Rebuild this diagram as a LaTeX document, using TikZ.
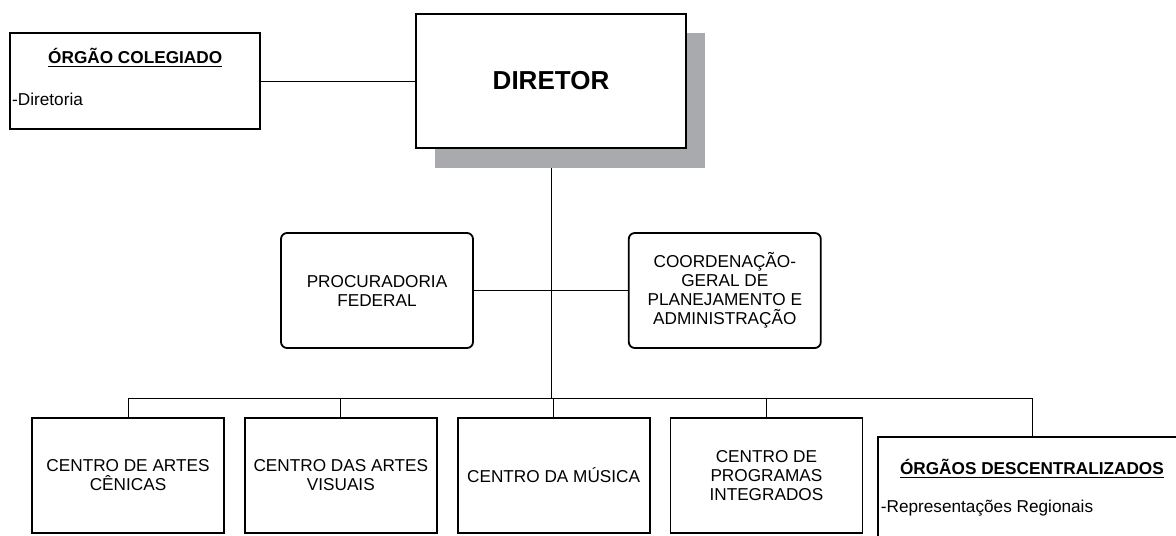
\documentclass[tikz,border=0pt]{standalone}
\usepackage{fontspec}
\setmainfont{Liberation Sans}
\usetikzlibrary{positioning, shadows, backgrounds}
\definecolor{sombra}{RGB}{168,170,173}

\begin{document}
\begin{tikzpicture}[x=0.5pt, y=-0.5pt, line width=0.9pt,
    every node/.style={font={\fontsize{8.6}{9.5}\selectfont}},
    caixa/.style={draw, fill=white, minimum width=96pt, minimum height=57.5pt, align=center, inner sep=1pt},
    redonda/.style={caixa, rounded corners=3pt},
    titulo/.style={font={\fontsize{8.6}{9.5}\selectfont\bfseries}, inner sep=0pt, anchor=base},
    item/.style={inner sep=0pt, anchor=base west}]
    \useasboundingbox (0,0) rectangle (1176,535);

    \node[caixa, minimum width=135pt, minimum height=67pt, font={\fontsize{13}{15}\selectfont\bfseries}, drop shadow={shadow xshift=9.5pt, shadow yshift=-9.75pt, fill=sombra, opacity=1}] (diretor) at (551,81) {DIRETOR};
    \node[caixa, minimum width=125pt, minimum height=48pt] (colegiado) [left=77pt of diretor] {};
    \node[titulo] (colegiadotit) at ([yshift=-15.5pt]colegiado.north) {\underline{ÓRGÃO COLEGIADO}};
    \node[item] (diretoria) at ([xshift=1pt, yshift=-36.5pt]colegiado.north west) {-Diretoria};

    \node[redonda] (procuradoria) at (377,290.5) {PROCURADORIA\\FEDERAL};
    \node[redonda] (coordenacao) [right=77pt of procuradoria] {COORDENAÇÃO-\\GERAL DE\\PLANEJAMENTO E\\ADMINISTRAÇÃO};

    \node[caixa] (cenicas) at (128,475.5) {CENTRO DE ARTES\\CÊNICAS};
    \node[caixa] (visuais) [right=9.5pt of cenicas] {CENTRO DAS ARTES\\VISUAIS};
    \node[caixa] (musica) [right=9.5pt of visuais] {CENTRO DA MÚSICA};
    \node[caixa] (programas) [right=9.5pt of musica] {CENTRO DE\\PROGRAMAS\\INTEGRADOS};
    \node[caixa, anchor=north west, minimum width=154pt, minimum height=53pt] (descentralizados) at (877,436) {};
    \node[titulo] (descentralizadostit) at ([yshift=-19pt]descentralizados.north) {\underline{ÓRGÃOS DESCENTRALIZADOS}};
    \node[item] (regionais) at ([xshift=1.5pt, yshift=-38pt]descentralizados.north west) {-Representações Regionais};

    % ligacoes
    \begin{scope}[on background layer]
        \coordinate (barra) at (551,398.5);
        \draw (colegiado) -- (diretor);
        \draw (procuradoria) -- (coordenacao);
        \draw (diretor) -- (barra);
        \draw (cenicas.north) |- (barra) -| (descentralizados.north);
        \foreach \n in {visuais, musica, programas}
            \draw (\n.north) -- (\n.north |- barra);
    \end{scope}
\end{tikzpicture}
\end{document}
